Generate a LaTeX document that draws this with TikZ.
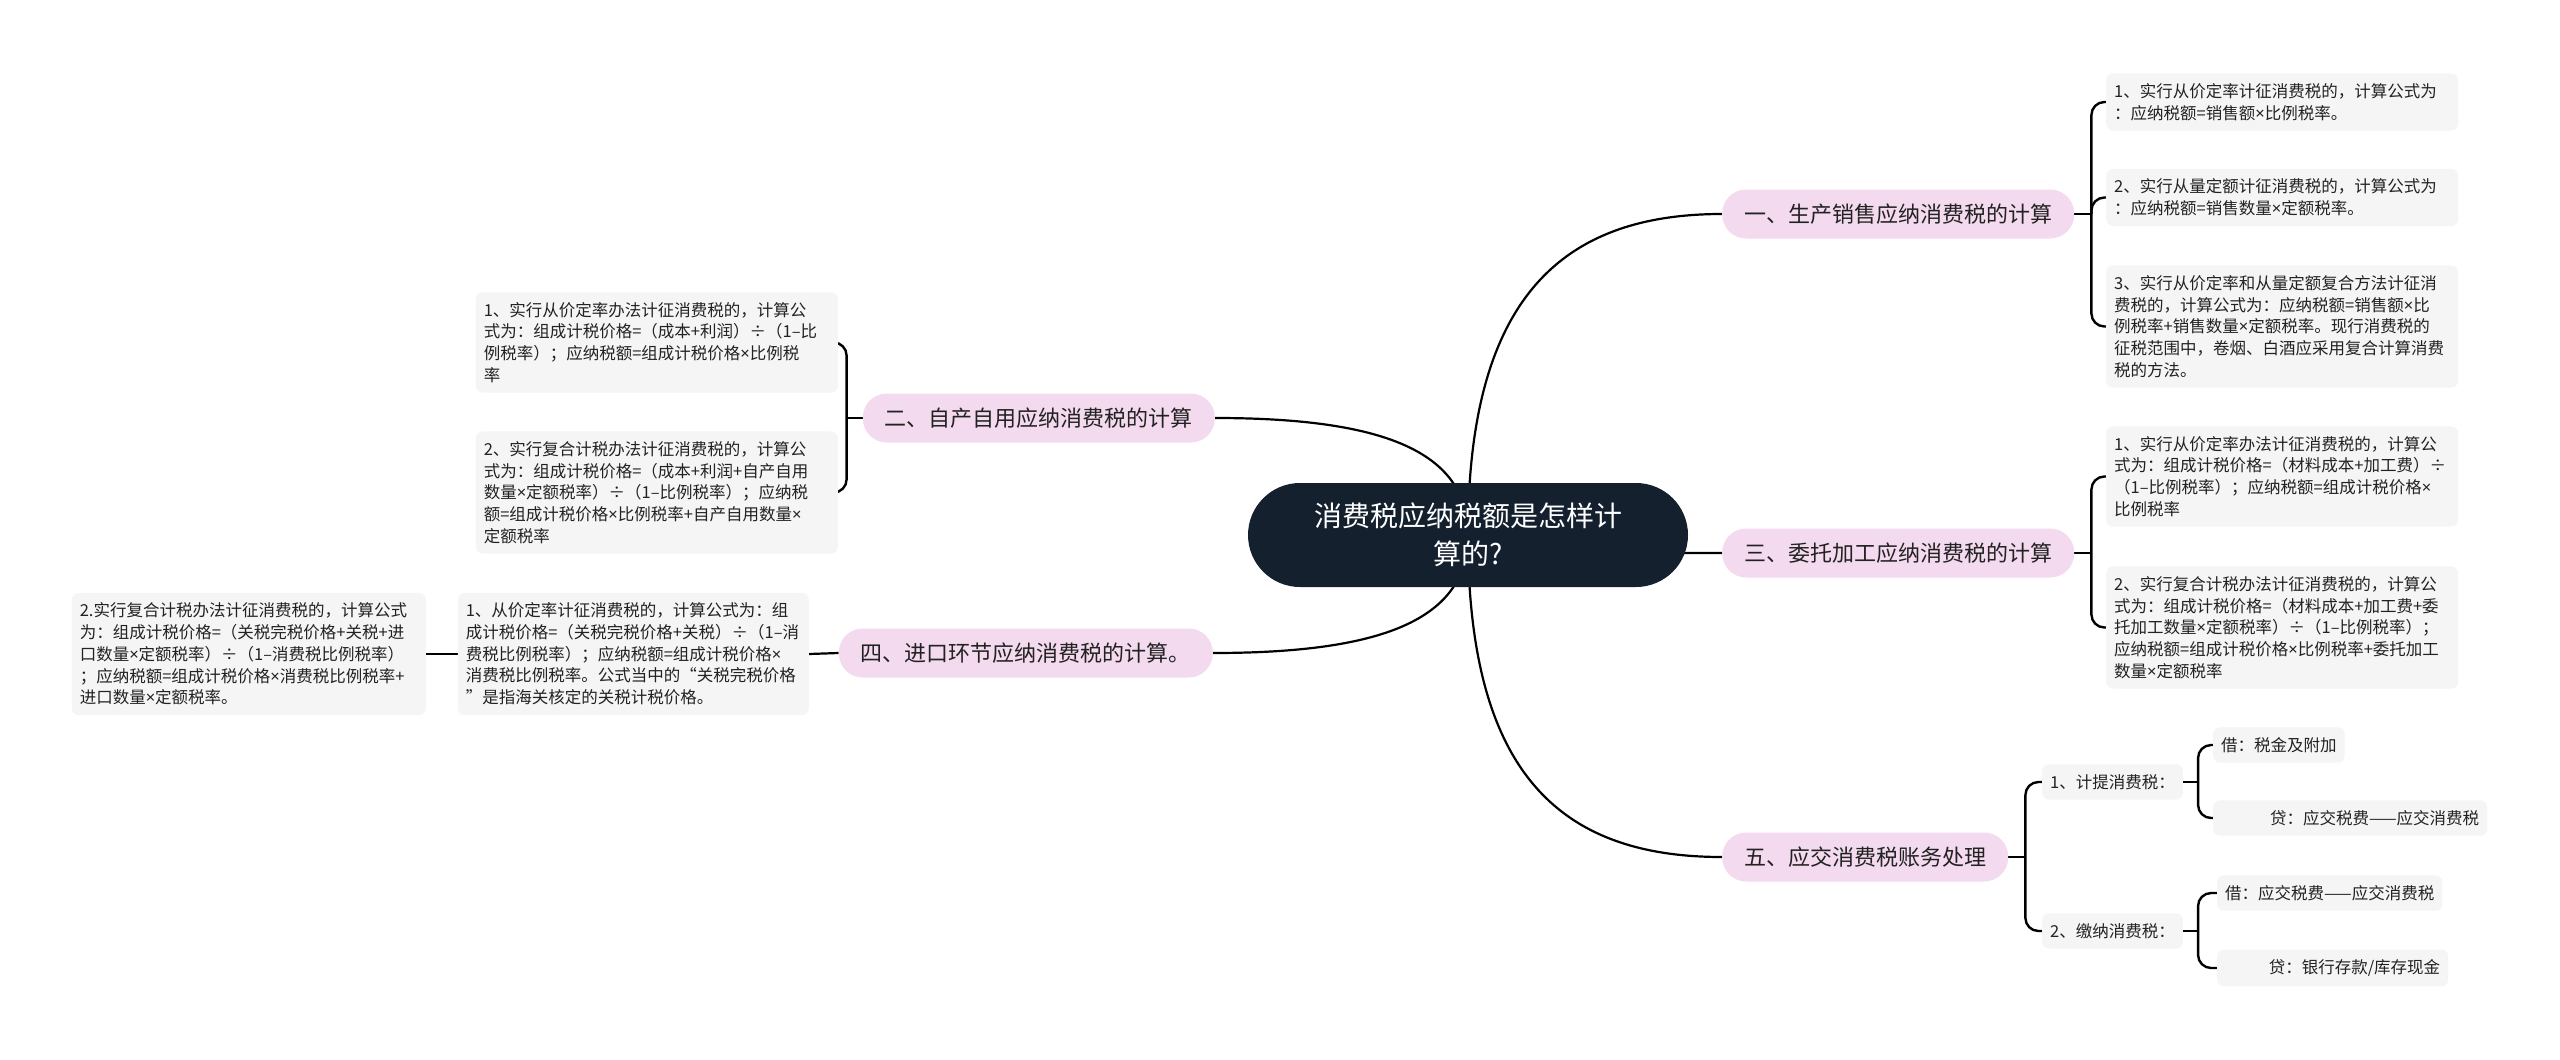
\documentclass[tikz,border=0pt]{standalone}
\usepackage{fontspec}
\setmainfont{Noto Sans CJK SC}
\newfontfamily\latinfont{Noto Sans}
\newcommand{\mul}{{\latinfont ×}}
\usetikzlibrary{calc}
\pgfdeclarelayer{bg}
\pgfsetlayers{bg,main}
\definecolor{rootc}{HTML}{15202F}
\definecolor{pinkc}{HTML}{F4DAEE}
\definecolor{leafc}{HTML}{F5F5F5}
\definecolor{txtc}{HTML}{222222}
\begin{document}
\begin{tikzpicture}[x=1pt,y=-1pt,
  rootnode/.style={fill=rootc, text=white, rounded corners=52pt, minimum width=440pt, minimum height=104pt, align=center, font=\fontsize{28}{38}\selectfont, inner sep=0pt},
  mainnode/.style={fill=pinkc, text=txtc, rounded corners=24pt, minimum height=49pt, inner xsep=22pt, inner ysep=0pt, font=\fontsize{22}{26}\selectfont},
  leafnode/.style={fill=leafc, text=txtc, rounded corners=7pt, inner xsep=8pt, inner ysep=10pt, font=\fontsize{16.5}{21.7}\selectfont, align=left},
  link/.style={line width=2.2pt, draw=black},
  brk/.style={line width=2.4pt, draw=black, rounded corners=13pt},
]
\useasboundingbox (0,0) rectangle (2560,1060);
\begin{pgfonlayer}{bg}
\fill[white] (0,0) rectangle (2560,1060);
\end{pgfonlayer}

% root
\node[rootnode] (root) at (1468,535) {消费税应纳税额是怎样计\\算的?};

% main branches
\node[mainnode, anchor=west] (main1) at (1722,214) {一、生产销售应纳消费税的计算};
\node[mainnode, anchor=west] (main3) at (1722,553) {三、委托加工应纳消费税的计算};
\node[mainnode, anchor=west] (main5) at (1722,857) {五、应交消费税账务处理};
\node[mainnode, anchor=east] (main2) at (1215,418) {二、自产自用应纳消费税的计算};
\node[mainnode, anchor=east] (main4) at (1213,653) {四、进口环节应纳消费税的计算。};

% group 1
\node[leafnode, anchor=west, text width=336pt] (leaf1a) at (2106,102) {1、实行从价定率计征消费税的，计算公式为\\：应纳税额=销售额\mul 比例税率。};
\node[leafnode, anchor=west, text width=336pt] (leaf1b) at (2106,197.5) {2、实行从量定额计征消费税的，计算公式为\\：应纳税额=销售数量\mul 定额税率。};
\node[leafnode, anchor=west, text width=336pt] (leaf1c) at (2106,326.5) {3、实行从价定率和从量定额复合方法计征消\\费税的，计算公式为：应纳税额=销售额\mul 比\\例税率+销售数量\mul 定额税率。现行消费税的\\征税范围中，卷烟、白酒应采用复合计算消费\\税的方法。};

% group 3
\node[leafnode, anchor=west, text width=336pt] (leaf3a) at (2106,476.5) {1、实行从价定率办法计征消费税的，计算公\\式为：组成计税价格=（材料成本+加工费）÷\\（1–比例税率）；应纳税额=组成计税价格\mul\\比例税率};
\node[leafnode, anchor=west, text width=336pt] (leaf3b) at (2106,627.5) {2、实行复合计税办法计征消费税的，计算公\\式为：组成计税价格=（材料成本+加工费+委\\托加工数量\mul 定额税率）÷（1–比例税率）；\\应纳税额=组成计税价格\mul 比例税率+委托加工\\数量\mul 定额税率};

% group 2
\node[leafnode, anchor=east, text width=346pt] (leaf2a) at (838,342.5) {1、实行从价定率办法计征消费税的，计算公\\式为：组成计税价格=（成本+利润）÷（1–比\\例税率）；应纳税额=组成计税价格\mul 比例税\\率};
\node[leafnode, anchor=east, text width=346pt] (leaf2b) at (838,492.5) {2、实行复合计税办法计征消费税的，计算公\\式为：组成计税价格=（成本+利润+自产自用\\数量\mul 定额税率）÷（1–比例税率）；应纳税\\额=组成计税价格\mul 比例税率+自产自用数量\mul\\定额税率};

% group 4
\node[leafnode, anchor=east, text width=335pt] (leaf4a) at (809,654) {1、从价定率计征消费税的，计算公式为：组\\成计税价格=（关税完税价格+关税）÷（1–消\\费税比例税率）；应纳税额=组成计税价格\mul\\消费税比例税率。公式当中的“关税完税价格\\”是指海关核定的关税计税价格。};
\node[leafnode, anchor=east, text width=338pt] (leaf4b) at (426,654) {2.实行复合计税办法计征消费税的，计算公式\\为：组成计税价格=（关税完税价格+关税+进\\口数量\mul 定额税率）÷（1–消费税比例税率）\\；应纳税额=组成计税价格\mul 消费税比例税率+\\进口数量\mul 定额税率。};

% group 5
\node[leafnode, anchor=west] (sub5a) at (2042,782) {1、计提消费税：};
\node[leafnode, anchor=west] (sub5b) at (2042,931) {2、缴纳消费税：};
\node[leafnode, anchor=west] (leaf5a1) at (2213,745) {借：税金及附加};
\node[leafnode, anchor=west, text width=258pt, align=right] (leaf5a2) at (2213,818) {贷：应交税费——应交消费税};
\node[leafnode, anchor=west] (leaf5b1) at (2217,893) {借：应交税费——应交消费税};
\node[leafnode, anchor=west, text width=215pt, align=right] (leaf5b2) at (2217,968) {贷：银行存款/库存现金};

\begin{pgfonlayer}{bg}
% root connectors
\draw[link] (root.center) .. controls (1468,300) and (1560,214) .. (main1.west);
\draw[link] (root.center) .. controls (1468,450) and (1380,418) .. (main2.east);
\draw[link] (root.center) .. controls (1468,548) and (1557,553) .. (main3.west);
\draw[link] (root.center) .. controls (1468,621) and (1379,653) .. (main4.east);
\draw[link] (root.center) .. controls (1468,770) and (1557,857) .. (main5.west);

% group 1 bracket
\coordinate (b1) at ($(main1.east)+(17,0)$);
\draw[link] (main1.east) -- (b1);
\foreach \n in {leaf1a,leaf1b,leaf1c} \draw[brk] (b1) |- ($(\n.west)+(4,0)$);

% group 3 bracket
\coordinate (b3) at ($(main3.east)+(17,0)$);
\draw[link] (main3.east) -- (b3);
\foreach \n in {leaf3a,leaf3b} \draw[brk] (b3) |- ($(\n.west)+(4,0)$);

% group 2 bracket
\coordinate (b2) at ($(main2.west)+(-16,0)$);
\draw[link] (main2.west) -- (b2);
\foreach \n in {leaf2a,leaf2b} \draw[brk] (b2) |- ($(\n.east)+(-8,0)$);

% group 4 lines
\draw[link] (main4.west) -- (leaf4a.east);
\draw[link] (leaf4a.west) -- (leaf4b.east);

% group 5 brackets
\coordinate (b5) at ($(main5.east)+(17,0)$);
\draw[link] (main5.east) -- (b5);
\foreach \n in {sub5a,sub5b} \draw[brk] (b5) |- ($(\n.west)+(4,0)$);
\coordinate (b5a) at ($(sub5a.east)+(15,0)$);
\draw[link] (sub5a.east) -- (b5a);
\foreach \n in {leaf5a1,leaf5a2} \draw[brk] (b5a) |- ($(\n.west)+(4,0)$);
\coordinate (b5b) at ($(sub5b.east)+(15,0)$);
\draw[link] (sub5b.east) -- (b5b);
\foreach \n in {leaf5b1,leaf5b2} \draw[brk] (b5b) |- ($(\n.west)+(4,0)$);
\end{pgfonlayer}
\end{tikzpicture}
\end{document}
